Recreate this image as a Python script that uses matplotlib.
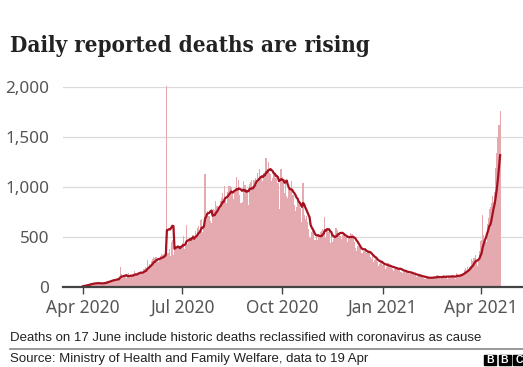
import numpy as np
import pandas as pd
import matplotlib
matplotlib.use("Agg")
import matplotlib.pyplot as plt
import matplotlib.dates as mdates
from matplotlib.patches import Rectangle
from matplotlib.ticker import FuncFormatter

# daily reported deaths, month by month (India)
mar_2020 = [4, 2, 7, 5, 3, 7]  # from 26 Mar
apr_2020 = [12, 20, 13, 16, 25, 26, 30, 33, 30, 40, 32, 35, 41, 31, 38,
            32, 26, 36, 32, 42, 43, 50, 55, 60, 57, 62, 66, 72, 73, 70]
may_2020 = [75, 77, 83, 68, 195, 126, 89, 104, 95, 111, 87, 122, 134, 100, 120,
            103, 100, 157, 134, 132, 140, 148, 137, 142, 147, 146, 175, 194, 175, 265, 193]
jun_2020 = [230, 204, 260, 273, 294, 286, 297, 266, 246, 274, 310, 330, 320, 325, 330,
            337, 2003, 334, 375, 306, 445, 465, 312, 418, 410, 381, 384, 410, 380, 418]
jul_2020 = [434, 507, 379, 442, 613, 425, 467, 482, 475, 487, 519, 500, 553, 500, 582,
            606, 543, 671, 681, 543, 587, 1130, 740, 757, 705, 708, 654, 637, 768, 779, 764]
aug_2020 = [853, 803, 771, 803, 857, 886, 933, 871, 1007, 871, 834, 942, 1007, 1007, 996,
            944, 876, 941, 977, 1092, 983, 1063, 912, 836, 848, 1059, 1021, 1017, 948, 971, 819]
sep_2020 = [1025, 1045, 1066, 1007, 1065, 1089, 1015, 1133, 1089, 1172, 1096, 1114, 1054, 1136, 1132,
            1290, 1174, 1247, 1133, 1130, 1053, 1085, 1129, 1141, 1089, 1124, 1039, 776, 1179, 1181]
oct_2020 = [1095, 1069, 940, 1069, 903, 884, 986, 971, 1060, 918, 918, 816, 760, 800, 895,
            860, 837, 784, 650, 1033, 717, 680, 702, 650, 578, 500, 488, 543, 563, 551, 470]
nov_2020 = [496, 470, 514, 490, 543, 560, 577, 559, 700, 490, 590, 547, 554, 435, 511,
            449, 474, 501, 585, 584, 562, 537, 511, 480, 517, 540, 518, 492, 496, 443]
dec_2020 = [482, 501, 540, 524, 510, 442, 390, 355, 402, 411, 395, 387, 333, 340, 355,
            391, 333, 347, 337, 341, 301, 278, 312, 251, 267, 301, 251, 212, 229, 251, 250]
jan_2021 = [217, 224, 214, 180, 200, 234, 210, 212, 190, 175, 162, 175, 201, 191, 176,
            175, 181, 145, 137, 162, 151, 163, 150, 138, 137, 123, 131, 146, 127, 120, 127]
feb_2021 = [94, 107, 108, 107, 123, 94, 95, 84, 82, 99, 83, 94, 100, 78, 90,
            91, 100, 101, 87, 113, 100, 86, 79, 105, 104, 115, 106, 90]
mar_2021 = [106, 80, 110, 98, 117, 113, 97, 96, 77, 133, 126, 116, 117, 131, 114,
            131, 171, 188, 154, 197, 172, 199, 212, 275, 257, 291, 312, 271, 212, 271, 354]
apr_2021 = [459, 469, 714, 513, 478, 446, 630, 685, 780, 794, 839, 904, 850, 950, 1185,
            1341, 1501, 1619, 1761]  # to 19 Apr

deaths = (mar_2020 + apr_2020 + may_2020 + jun_2020 + jul_2020 + aug_2020 + sep_2020
          + oct_2020 + nov_2020 + dec_2020 + jan_2021 + feb_2021 + mar_2021 + apr_2021)
dates = pd.date_range("2020-03-26", periods=len(deaths), freq="D")
s = pd.Series(deaths, index=dates)
avg7 = s.rolling(7).mean()

tick_dates = pd.to_datetime(["2020-04-01", "2020-07-01", "2020-10-01", "2021-01-01", "2021-04-01"])
tick_labels = ["Apr 2020", "Jul 2020", "Oct 2020", "Jan 2021", "Apr 2021"]
y_ticks = [0, 500, 1000, 1500, 2000]

BAR = "#e4aab0"
LINE = "#a6111f"
TXT = "#222222"

fig = plt.figure(figsize=(5.23, 3.67), dpi=100)
ax = fig.add_axes([63 / 523, 1 - 286.7 / 367, 460 / 523, 200 / 367])

ax.bar(s.index, s.values, width=1.0, color=BAR, linewidth=0, zorder=2, clip_on=False)
ax.plot(avg7.index, avg7.values, color=LINE, lw=1.6, zorder=3, solid_joinstyle="round")

ax.set_ylim(0, 2000)
ax.set_xlim(mdates.date2num(pd.Timestamp("2020-03-13 14:00")),
            mdates.date2num(pd.Timestamp("2021-05-10")))

ax.set_yticks(y_ticks)
ax.yaxis.set_major_formatter(FuncFormatter(lambda v, p: f"{int(v):,}"))
ax.set_xticks(tick_dates)
ax.set_xticklabels(tick_labels)

ax.grid(axis="y", color="#d9d9d9", lw=0.9, zorder=0)
for sp in ["top", "right", "left"]:
    ax.spines[sp].set_visible(False)
ax.spines["bottom"].set_color("#444444")
ax.spines["bottom"].set_linewidth(1.6)
ax.spines["bottom"].set_zorder(4)

ax.tick_params(axis="y", length=0, pad=10, labelsize=12.3, labelcolor="#555555")
ax.tick_params(axis="x", length=5, width=1, color="#444444", pad=4,
               labelsize=12.5, labelcolor="#555555")
for lab in ax.get_xticklabels() + ax.get_yticklabels():
    lab.set_family("Noto Sans")

fig.text(10 / 523, 1 - 52 / 367, "Daily reported deaths are rising", family="DejaVu Serif",
         weight="bold", fontstretch="condensed", fontsize=16, color=TXT, va="baseline")

fig.text(10 / 523, 1 - 338 / 367, "Deaths on 17 June include historic deaths reclassified with coronavirus as cause",
         family="Liberation Sans", fontsize=9.5, color=TXT, va="center")
fig.add_artist(plt.Line2D([10 / 523, 1], [1 - 349 / 367, 1 - 349 / 367], color="#888888", lw=1.2))
fig.text(10 / 523, 1 - 359 / 367, "Source: Ministry of Health and Family Welfare, data to 19 Apr",
         family="Liberation Sans", fontsize=9.5, color=TXT, va="center")

# BBC blocks
for i, ch in enumerate("BBC"):
    x0 = 484 + i * 14.5
    fig.add_artist(Rectangle((x0 / 523, 1 - 365 / 367), 12 / 523, 10.5 / 367,
                             transform=fig.transFigure, color="black"))
    fig.text((x0 + 6) / 523, 1 - 360 / 367, ch, family="Liberation Sans", weight="bold",
             fontsize=7.5, color="white", ha="center", va="center")

fig.savefig("out.png", dpi=100, facecolor="white")
